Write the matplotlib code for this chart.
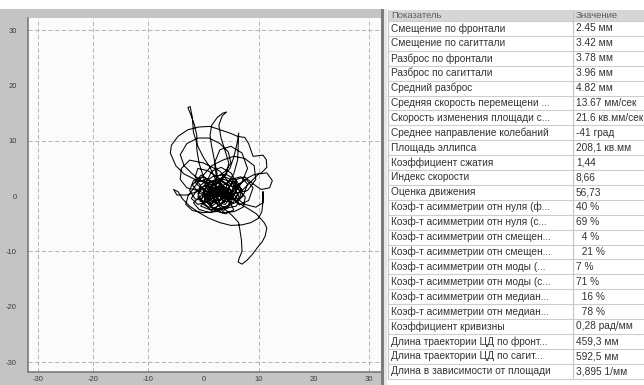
import matplotlib
matplotlib.use("Agg")
import matplotlib.pyplot as plt
from matplotlib.patches import Rectangle

plt.rcParams["font.family"] = ["Liberation Sans", "DejaVu Sans"]
plt.rcParams["axes.unicode_minus"] = False

W, H = 644, 385  # canvas size, px

# centre-of-pressure trajectory, mm (frontal x, sagittal y)
path_x = [
    2.0, 3.5, 5.0, 4.0, 1.5, 0.0, 1.0, 3.0, 5.5, 6.8, 6.0, 3.2, 0.8, -1.0, -0.5, 1.8, 4.2, 6.0, 7.0,
    8.5, 10.0, 11.5, 12.5, 12.0, 10.5, 9.0, 7.5, 6.0,
    4.5, 2.5, 0.5, -1.5, -2.5, -1.8, 0.0, 2.0, 3.5, 4.8, 5.5, 4.0, 2.0, 0.8, 1.5, 3.2, 5.0, 6.2,
    7.5, 9.5, 10.8, 10.8, 10.8, 10.6, 10.0, 8.6, 7.0, 5.0, 3.0, 1.0, -0.8, -2.5, -3.8, -4.6, -5.4, -4.8, -3.0, -1.2, 0.5,
    0.0, -0.8, -1.2, -1.2, -1.6, -2.2, -2.8, -2.4, -2.0, -1.8, -1.0, 0.0, 1.2, 2.2,
    3.8, 5.2, 4.2, 2.5, 1.0, -0.5, -1.5, -1.0, 0.8, 2.6, 4.5, 6.2, 7.6, 7.2, 5.6, 3.4, 1.6, 0.2, 1.2, 2.8, 4.0, 3.0, 1.8,
    0.5, -1.5, -3.5, -5.0, -6.0, -5.8, -4.6, -2.8, -0.8, 1.2, 3.0, 4.8, 6.2, 7.5, 8.2, 9.0, 10.8, 11.4, 11.5, 10.5, 9.0, 7.5, 6.0, 4.5,
    3.0, 1.5, 0.0, -1.0, 0.2, 2.0, 3.5, 5.0, 6.0, 5.0, 3.2, 1.5, 0.8, 2.0,
    2.5, 2.0, 1.5, 1.2, 1.5, 2.5, 3.5, 4.2, 3.4, 2.8, 3.2, 4.0, 4.6, 4.2,
    3.0, 1.2, -0.5, -1.8, -0.8, 1.2, 3.6, 5.8, 7.4, 8.0, 6.8, 5.0, 3.4, 2.0,
    3.5, 5.2, 6.4, 6.6, 6.9, 7.0, 6.5, 6.3, 7.0, 7.9, 9.0, 9.8, 10.7, 11.2, 11.5, 11.1, 9.6, 8.0, 6.0,
    4.2, 2.4, 0.6, -1.0, -2.2, -1.0, 0.8, 2.6, 4.4, 6.2, 5.4, 3.6, 2.2, 1.0, 2.8, 4.2,
    5.5, 6.2, 6.3, 6.4, 6.1, 5.5, 4.8, 3.5,
    2.0, 0.0, -2.0, -3.5, -4.2, -3.0, -1.0, 1.0, 3.0, 4.5, 5.0, 4.0, 2.5, 1.0, 0.2, 1.5, 3.0,
    5.5, 8.0, 9.5, 9.2, 7.5, 5.5, 3.5, 1.5, 0.0, -1.5, -2.8, -3.2, -2.0, 0.0, 2.5, 4.5, 5.0, 3.5, 2.0,
    1.0, 2.2, 3.2, 4.4, 5.4, 6.4, 7.2, 6.0, 4.8, 3.8, 2.6, 1.4, 0.4, -0.6, 0.6, 2.0, 3.0, 4.0, 5.2, 6.6,
    2.5, 0.0, -1.5, 0.5, 2.0, 3.5, 5.0, 4.2, 2.8, 1.0, -0.5, 1.5, 3.8, 5.8, 7.8, 9.0, 8.2, 6.5,
    4.8, 3.0, 1.2, -0.8, -2.0, -0.4, 1.8, 3.4, 5.6, 7.0, 5.4, 3.6, 1.6, 0.2, 1.6, 3.2, 4.6, 6.0,
    5.0, 3.0, 0.0, -2.5, -4.0, -4.2, -3.0, -1.0, 1.0, 3.0, 5.4, 7.0, 8.0, 7.0, 5.0, 3.0, 2.0, 2.4, 3.4,
    0.5, 1.8, 3.5, 4.6, 3.0, 1.5,
]
path_y = [
    0.5, 1.8, 0.2, -1.5, -1.0, 0.8, 2.6, 3.2, 2.5, 0.5, -1.8, -2.4, -1.9, -0.2, 2.0, 3.6, 3.9, 2.8, 1.0,
    2.5, 4.0, 4.2, 2.8, 1.5, 1.2, 2.2, 3.5, 3.0,
    1.5, 0.0, -1.0, -0.5, 1.0, 2.8, 3.5, 2.2, 0.5, -1.0, -2.5, -3.2, -2.6, -0.8, 1.2, 2.0, 1.0, -0.5,
    -1.5, -2.0, -1.2, 0.8, -1.0, -2.8, -4.0, -4.8, -5.2, -5.3, -4.8, -4.0, -3.0, -1.8, -0.5, 0.8, 1.2, 0.2, 0.2, 0.8, 1.5,
    3.5, 6.0, 8.5, 11.0, 12.8, 14.5, 16.0, 16.2, 14.2, 11.5, 9.0, 7.0, 5.2, 3.0,
    1.2, -0.8, -2.2, -1.5, 0.5, 1.8, 3.5, 5.0, 4.6, 3.4, 2.0, 1.5, -0.2, -2.0, -2.8, -3.0, -2.2, -0.5, 1.0, 1.6, 0.6, -0.8, 0.2,
    2.5, 3.0, 4.0, 5.5, 7.8, 9.2, 10.8, 12.0, 12.5, 12.6, 12.0, 11.4, 10.8, 10.6, 9.5, 7.2, 7.4, 6.6, 5.2, 4.2, 3.8, 3.0, 1.5, 0.0,
    -1.5, -2.5, -1.5, 0.5, 2.0, 1.0, -0.2, 0.8, 2.5, 4.2, 5.2, 4.5, 3.0, 2.0,
    4.0, 6.5, 9.0, 11.0, 12.8, 14.2, 15.0, 15.2, 14.5, 12.8, 10.5, 8.0, 6.0, 4.0,
    2.5, 1.5, 0.0, -1.2, -2.4, -3.0, -2.0, -1.2, 0.5, 2.2, 3.5, 3.0, 1.8, 0.2,
    -2.0, -3.5, -4.8, -6.0, -8.0, -10.0, -11.2, -11.9, -12.3, -11.6, -10.4, -9.3, -8.2, -7.2, -5.8, -4.9, -3.2, -2.2, -1.0,
    0.2, 1.2, 2.0, 1.2, -0.4, -1.5, -1.0, 0.4, 1.4, 0.4, -1.2, -0.8, 0.8, 2.4, 3.0, 2.0,
    4.0, 6.5, 9.0, 11.4, 9.5, 7.0, 5.0, 3.5,
    2.0, 2.5, 4.0, 5.5, 7.5, 9.5, 10.5, 10.5, 9.5, 8.0, 6.0, 4.5, 3.5, 1.0, -0.8, -1.8, -0.8,
    0.5, 1.0, 3.0, 5.5, 6.8, 7.2, 6.5, 5.5, 3.8, 1.8, 0.0, -1.5, -2.6, -3.0, -2.8, -1.8, 0.0, 1.4, 0.8,
    -0.5, 1.5, -0.2, 2.2, 0.0, 2.0, 0.0, -1.0, 0.8, -1.2, 0.6, -1.6, 0.4, -1.0, 1.6, -0.4, 2.4, 0.2, 2.6, -0.6,
    0.0, 1.0, 2.5, 3.0, -0.5, -2.8, -1.5, 1.2, 2.8, 0.0, -1.8, -2.6, -1.0, 1.8, 3.0, 1.5, -0.8, -1.6,
    0.4, 1.0, -0.2, 0.6, 2.0, 3.8, 2.4, 0.2, -0.6, 1.2, 2.8, 3.6, 1.8, -0.2, -1.4, 0.4, -0.8, 0.8,
    2.0, 4.5, 6.0, 6.5, 5.0, 3.0, 1.5, 1.0, 0.2, -0.6, 0.2, 2.5, 5.0, 7.8, 9.0, 8.4, 6.0, 3.2, 1.2,
    0.5, -1.0, -0.5, 1.0, 1.8, 1.0,
]

ticks = [-30, -20, -10, 0, 10, 20, 30]
grid_x = [-30, -20, -10, 10, 30]
grid_y = [-30, -10, 10, 30]

param_names = [
    "Смещение по фронтали",
    "Смещение по сагиттали",
    "Разброс по фронтали",
    "Разброс по сагиттали",
    "Средний разброс",
    "Средняя скорость перемещени ...",
    "Скорость изменения площади с...",
    "Среднее направление колебаний",
    "Площадь эллипса",
    "Коэффициент сжатия",
    "Индекс скорости",
    "Оценка движения",
    "Коэф-т асимметрии отн нуля (ф...",
    "Коэф-т асимметрии отн нуля (с...",
    "Коэф-т асимметрии отн смещен...",
    "Коэф-т асимметрии отн смещен...",
    "Коэф-т асимметрии отн моды (...",
    "Коэф-т асимметрии отн моды (с...",
    "Коэф-т асимметрии отн медиан...",
    "Коэф-т асимметрии отн медиан...",
    "Коэффициент кривизны",
    "Длина траектории ЦД по фронт...",
    "Длина траектории ЦД по сагит...",
    "Длина в зависимости от площади",
]
param_values = [
    "2.45 мм", "3.42 мм", "3.78 мм", "3.96 мм", "4.82 мм",
    "13.67 мм/сек", "21.6 кв.мм/сек", "-41 град", "208,1 кв.мм",
    "1,44", "8,66", "56,73",
    "40 %", "69 %", "  4 %", "  21 %", "7 %", "71 %", "  16 %", "  78 %",
    "0,28 рад/мм", "459,3 мм", "592,5 мм", "3,895 1/мм",
]


def fbox(x0, y0, x1, y1):
    """Pixel box (top-left origin) -> figure-fraction rect."""
    return [x0 / W, 1 - y1 / H, (x1 - x0) / W, (y1 - y0) / H]


fig = plt.figure(figsize=(W / 100, H / 100), dpi=100)
fig.patch.set_facecolor("white")

# window chrome: grey frame round the plot, splitter bar
for box, colour in [((0, 9, 382, 385), "#c4c4c4"),
                    ((381, 9, 384, 385), "#7c7c7c"),
                    ((384, 9, 387, 385), "#e6e6e6")]:
    r = fbox(*box)
    fig.patches.append(Rectangle((r[0], r[1]), r[2], r[3], transform=fig.transFigure,
                                 facecolor=colour, edgecolor="none", zorder=-5))

# --- stabilogram ---
ax = fig.add_axes(fbox(28, 18, 381, 372))
ax.set_facecolor("#fbfbfb")
ax.set_xlim(-31.8, 32.2)
ax.set_ylim(-31.8, 32.2)
for v in grid_x:
    ax.axvline(v, color="#a8a8a8", lw=0.6, ls=(0, (5, 3)), zorder=1)
for v in grid_y:
    ax.axhline(v, color="#a8a8a8", lw=0.6, ls=(0, (5, 3)), zorder=1)
ax.plot(path_x, path_y, color="black", lw=0.75, zorder=3)

ax.set_xticks(ticks)
ax.set_yticks(ticks)
ax.tick_params(length=0, labelsize=5.5, labelcolor="#3c3c3c")
ax.tick_params(axis="y", pad=8)
ax.tick_params(axis="x", pad=3)
for side in ("top", "right"):
    ax.spines[side].set_visible(False)
for side in ("left", "bottom"):
    ax.spines[side].set_color("#7a7a7a")
    ax.spines[side].set_linewidth(1.2)

# --- parameter table ---
tab = fig.add_axes(fbox(387, 0, 644, 385))
tab.set_xlim(387, 644)
tab.set_ylim(385, 0)
tab.axis("off")

left, split, right = 388, 573, 644
top, head_h, row_h = 10, 11, 14.9
fs = 7.3

tab.add_patch(Rectangle((left, top), right - left, head_h, facecolor="#d6d6d6", edgecolor="none"))
tab.text(left + 3, top + head_h / 2 + 0.5, "Показатель", va="center", fontsize=6.8, color="#5c5c5c")
tab.text(split + 3, top + head_h / 2 + 0.5, "Значение", va="center", fontsize=6.8, color="#5c5c5c")

y0 = top + head_h
n = len(param_names)
tab.hlines([y0 + k * row_h for k in range(n + 1)], left, right, color="#cdcdcd", lw=0.8)
tab.vlines([left, split], top, y0 + n * row_h, color="#c4c4c4", lw=0.8)

for i, (name, val) in enumerate(zip(param_names, param_values)):
    yc = y0 + (i + 0.5) * row_h
    tab.text(left + 3, yc, name, va="center", fontsize=fs, color="#333333")
    tab.text(split + 3, yc, val, va="center", fontsize=fs, color="#333333")

fig.savefig("out.png", dpi=100)
